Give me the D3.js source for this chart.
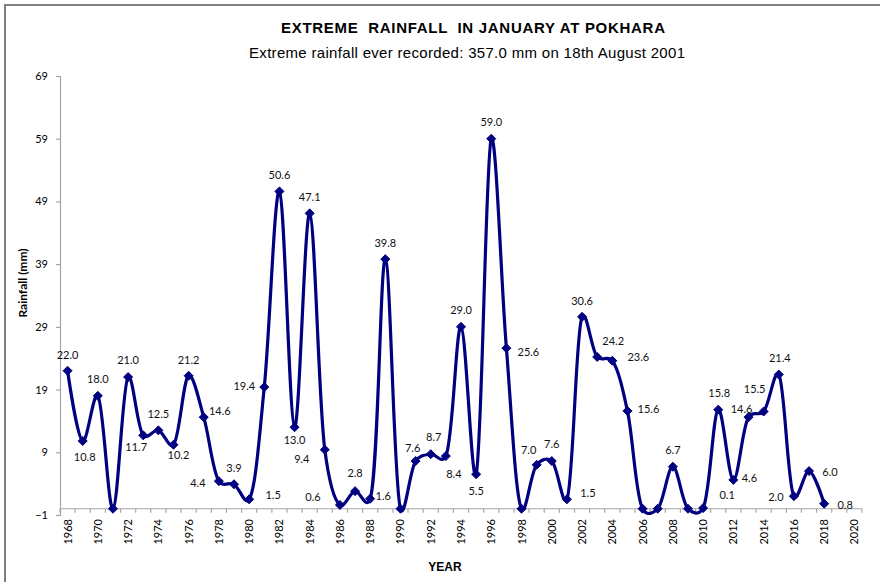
<!DOCTYPE html>
<html>
<head>
<meta charset="utf-8">
<script src="https://cdn.jsdelivr.net/npm/d3@7"></script>
<style>
  html, body { margin: 0; padding: 0; background: #fff; }
  svg { display: block; }
</style>
</head>
<body>
<svg id="chart" width="880" height="582"></svg>
<script>
// ---------- DATA ----------
const titleText = "EXTREME  RAINFALL  IN JANUARY AT POKHARA";
const subtitleText = "Extreme rainfall ever recorded: 357.0 mm on 18th August 2001";
const yAxisTitle = "Rainfall (mm)";
const xAxisTitle = "YEAR";

const categories = d3.range(1968, 2021); // 1968 .. 2020
const years = d3.range(1968, 2019);      // years with data
const rainfall = [
  22.0, 10.8, 18.0, 0.0, 21.0, 11.7, 12.5, 10.2, 21.2, 14.6,
  4.4, 3.9, 1.5, 19.4, 50.6, 13.0, 47.1, 9.4, 0.6, 2.8,
  1.6, 39.8, 0.0, 7.6, 8.7, 8.4, 29.0, 5.5, 59.0, 25.6,
  0.0, 7.0, 7.6, 1.5, 30.6, 24.2, 23.6, 15.6, 0.0, 0.0,
  6.7, 0.0, 0.1, 15.8, 4.6, 14.6, 15.5, 21.4, 2.0, 6.0,
  0.8
];
const yTicks = [-1, 9, 19, 29, 39, 49, 59, 69];
const xTickLabels = categories.filter(y => y % 2 === 0);

// ---------- LAYOUT (label offsets relative to each point, px) ----------
const labelDx = [
   0,  2,  0, 0,  0, -7,  0,  5,  0, 16,
 -21,  0, 24, -20, 0,  0,  0, -23, -27, 0,
  13,  0,  0, -3,  3,  8,  0,  0,  0, 22,
   0, -8,  0, 21,  0, 16, 26, 21,  0,  0,
   0,  0, 24,  1, 16, -7, -9,  1, -18, 21,
  21
];
const labelDy = [
 -16, 16, -17, 0, -17, 12, -16, 10, -16, -6,
   2, -16, -4, -1, -16, 13, -16, 9, -8, -18,
  -3, -16, 0, -13, -17, 18, -17, 17, -17, 4,
   0, -15, -17, -6, -16, -16, -4, -2, 0, 0,
 -17, 0, -13, -16, -2, -8, -22, -16, 1, 1,
   1
];

// ---------- DRAW ----------
const svg = d3.select("#chart");
const W = 880, H = 582;
const plot = { left: 60, right: 862, top: 76, bottom: 515 };
const navy = "#000080";
const axisGray = "#a6a6a6";
const numFont = "Lato, 'Open Sans', sans-serif";
const titleFont = "'Liberation Sans', Arial, sans-serif";

svg.append("rect").attr("width", W).attr("height", H).attr("fill", "#fff");

// frame (top & left edges)
svg.append("line").attr("x1", 4).attr("x2", W).attr("y1", 5).attr("y2", 5)
  .attr("stroke", "#7f7f7f").attr("stroke-width", 2);
svg.append("line").attr("x1", 5).attr("x2", 5).attr("y1", 4).attr("y2", H)
  .attr("stroke", "#7f7f7f").attr("stroke-width", 2);

const x = d3.scaleBand().domain(categories).range([plot.left, plot.right]).padding(0);
const y = d3.scaleLinear().domain([-1, 69]).range([plot.bottom, plot.top]);
const cx = d => x(d) + x.bandwidth() / 2;

// titles
svg.append("text").attr("x", 473).attr("y", 33).attr("text-anchor", "middle")
  .attr("font-family", titleFont).attr("font-weight", "bold").attr("font-size", 15)
  .attr("textLength", 384).attr("lengthAdjust", "spacing")
  .attr("fill", "#000").style("white-space", "pre").text(titleText);
svg.append("text").attr("x", 467).attr("y", 58).attr("text-anchor", "middle")
  .attr("font-family", titleFont).attr("font-size", 15)
  .attr("textLength", 436).attr("lengthAdjust", "spacing")
  .attr("fill", "#000").text(subtitleText);

// y axis
const yAxis = svg.append("g").attr("transform", `translate(${plot.left},0)`)
  .call(d3.axisLeft(y).tickValues(yTicks).tickSize(4).tickPadding(8).tickFormat(d3.format("d")));
yAxis.select(".domain").attr("stroke", axisGray).attr("stroke-width", 1.2);
yAxis.selectAll(".tick line").attr("stroke", axisGray).attr("stroke-width", 1.2);
yAxis.selectAll(".tick text").attr("font-family", numFont).attr("font-size", 11).attr("fill", "#000");

// x axis (crosses at value 0)
const x0 = y(0);
const xg = svg.append("g");
xg.append("line").attr("x1", plot.left).attr("x2", plot.right).attr("y1", x0).attr("y2", x0)
  .attr("stroke", axisGray).attr("stroke-width", 1.2);
const boundaries = categories.map(c => x(c)).concat([plot.right]);
xg.selectAll("line.tk").data(boundaries).join("line").attr("class", "tk")
  .attr("x1", d => d).attr("x2", d => d).attr("y1", x0).attr("y2", x0 + 4)
  .attr("stroke", axisGray).attr("stroke-width", 1.2);
xg.selectAll("text.xl").data(xTickLabels).join("text").attr("class", "xl")
  .attr("transform", d => `translate(${cx(d) + 4},519) rotate(-90)`)
  .attr("text-anchor", "end")
  .attr("font-family", numFont).attr("font-size", 11).attr("fill", "#000")
  .text(d => d);

// axis titles
svg.append("text").attr("transform", `translate(27,283) rotate(-90)`)
  .attr("text-anchor", "middle").attr("font-family", numFont).attr("font-weight", "bold")
  .attr("font-size", 12).attr("fill", "#000").text(yAxisTitle);
svg.append("text").attr("x", 445).attr("y", 571).attr("text-anchor", "middle")
  .attr("font-family", titleFont).attr("font-weight", "bold").attr("font-size", 12)
  .attr("fill", "#000").text(xAxisTitle);

// line
const pts = years.map((yr, i) => ({ yr, v: rainfall[i], dx: labelDx[i], dy: labelDy[i] }));
const line = d3.line().x(d => cx(d.yr)).y(d => y(d.v)).curve(d3.curveCatmullRom.alpha(0.25));
svg.append("path").datum(pts).attr("d", line).attr("fill", "none")
  .attr("stroke", navy).attr("stroke-width", 3.2).attr("stroke-linejoin", "round");

// markers
svg.selectAll("path.mk").data(pts).join("path").attr("class", "mk")
  .attr("transform", d => `translate(${cx(d.yr)},${y(d.v)})`)
  .attr("d", "M0,-4.5L4.5,0L0,4.5L-4.5,0Z").attr("fill", navy).attr("stroke", navy);

// data labels (zero values are not labelled)
svg.selectAll("text.dl").data(pts.filter(d => d.v > 0)).join("text").attr("class", "dl")
  .attr("x", d => cx(d.yr) + d.dx).attr("y", d => y(d.v) + d.dy)
  .attr("dy", "0.35em").attr("text-anchor", "middle")
  .attr("font-family", numFont).attr("font-size", 11).attr("fill", "#111")
  .text(d => d3.format(".1f")(d.v));
</script>
</body>
</html>
